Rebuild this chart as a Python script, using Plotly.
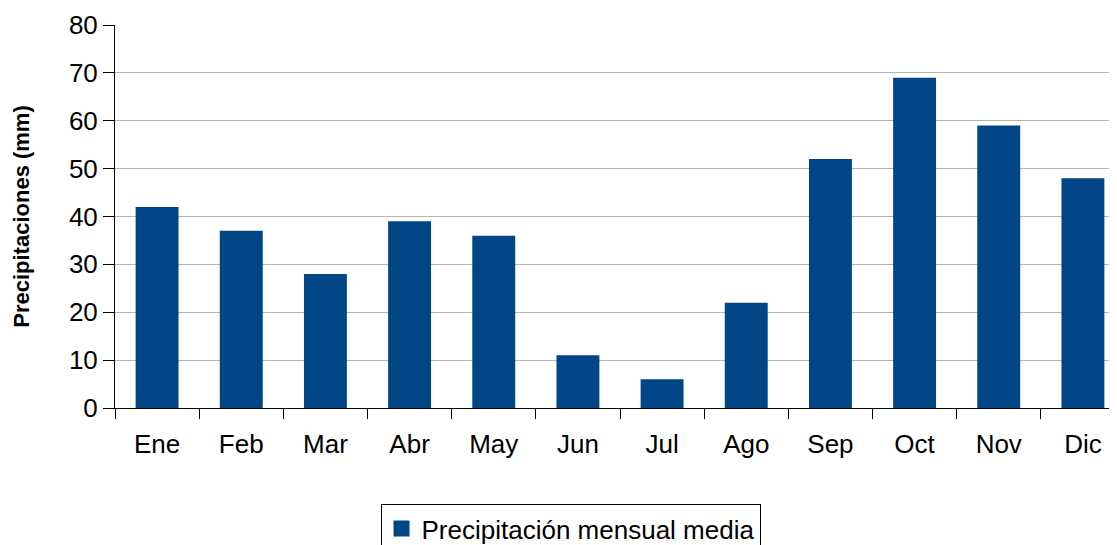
import plotly.graph_objects as go

# Datos: precipitación mensual media (mm)
meses = ["Ene", "Feb", "Mar", "Abr", "May", "Jun",
         "Jul", "Ago", "Sep", "Oct", "Nov", "Dic"]
precipitacion = [42, 37, 28, 39, 36, 11, 6, 22, 52, 69, 59, 48]
y_ticks = [0, 10, 20, 30, 40, 50, 60, 70, 80]

AZUL = "#004586"
FUENTE = "Liberation Sans, Arial, sans-serif"
NOMBRE_SERIE = "Precipitación mensual media"

fig = go.Figure()

fig.add_trace(go.Bar(
    x=meses,
    y=precipitacion,
    marker=dict(color=AZUL, line=dict(width=0)),
    width=0.51,
    name=NOMBRE_SERIE,
    showlegend=False,
))

# Traza solo para la leyenda (cuadrado más grande, como en el original)
fig.add_trace(go.Scatter(
    x=[None],
    y=[None],
    mode="markers",
    marker=dict(symbol="square", size=17, color=AZUL),
    name=NOMBRE_SERIE,
    showlegend=True,
))

fig.update_layout(
    width=1117,
    height=545,
    # el gráfico original está recortado por la derecha y por abajo
    margin=dict(l=107, r=0, t=17, b=145, autoexpand=False),
    plot_bgcolor="white",
    paper_bgcolor="white",
    font=dict(family=FUENTE, size=26, color="black"),
    xaxis=dict(
        type="category",
        range=[-0.5, 11.5],
        showline=True,
        linecolor="black",
        linewidth=1,
        ticks="outside",
        tickson="boundaries",
        ticklen=10,
        tickcolor="black",
        tickfont=dict(size=26),
        tickangle=0,
        ticklabelstandoff=13,
        showgrid=False,
        zeroline=False,
    ),
    yaxis=dict(
        range=[0, 80],
        tickvals=y_ticks,
        showline=True,
        linecolor="black",
        linewidth=1,
        ticks="outside",
        ticklen=11,
        tickcolor="black",
        tickfont=dict(size=26),
        showgrid=True,
        gridcolor="#b3b3b3",
        gridwidth=1,
        zeroline=False,
        title=dict(
            text="<b>Precipitaciones (mm)</b>",
            font=dict(size=22),
            standoff=33,
        ),
    ),
    legend=dict(
        orientation="h",
        x=0.5036,
        xref="container",
        xanchor="center",
        y=0.0899,
        yref="container",
        yanchor="top",
        bordercolor="black",
        borderwidth=1,
        font=dict(size=26),
        itemsizing="trace",
    ),
)

fig.write_html("out.html")
